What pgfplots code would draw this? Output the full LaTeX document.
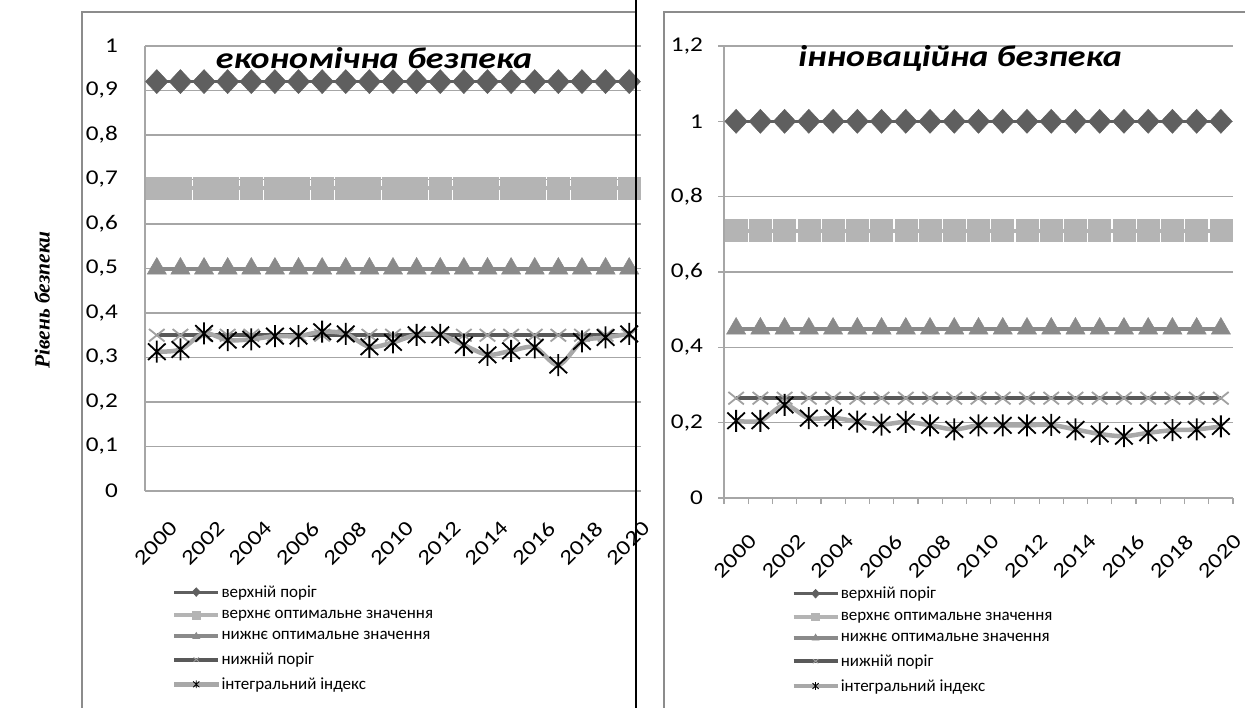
\documentclass[border=0pt]{standalone}
\usepackage{fontspec}
\setmainfont{Carlito}[FakeStretch=1.2]
\newfontfamily\legfont{Carlito}
\newfontfamily\timesf{Liberation Serif}
\usepackage{pgfplots}
\pgfplotsset{compat=1.18}

\definecolor{cdia}{HTML}{5F5F5F}
\definecolor{csq}{HTML}{B4B4B4}
\definecolor{ctri}{HTML}{8A8A8A}
\definecolor{clow}{HTML}{595959}
\definecolor{clowm}{HTML}{A0A0A0}
\definecolor{cint}{HTML}{A8A8A8}
\definecolor{cgrid}{HTML}{A6A6A6}
\definecolor{cframe}{HTML}{8C8C8C}

% vertical bar + X, like the spreadsheet star marker
\pgfdeclareplotmark{star8}{%
  \pgfpathmoveto{\pgfqpoint{0pt}{\pgfplotmarksize}}%
  \pgfpathlineto{\pgfqpoint{0pt}{-\pgfplotmarksize}}%
  \pgfpathmoveto{\pgfqpoint{-.8\pgfplotmarksize}{.75\pgfplotmarksize}}%
  \pgfpathlineto{\pgfqpoint{.8\pgfplotmarksize}{-.75\pgfplotmarksize}}%
  \pgfpathmoveto{\pgfqpoint{-.8\pgfplotmarksize}{-.75\pgfplotmarksize}}%
  \pgfpathlineto{\pgfqpoint{.8\pgfplotmarksize}{.75\pgfplotmarksize}}%
  \pgfusepathqstroke}

% year, upper threshold, upper optimum, lower optimum, lower threshold, integral index
\pgfplotstableread{
yr   up    uo    lo   low   idx
2000 0.92  0.68  0.5  0.35  0.313
2001 0.92  0.68  0.5  0.35  0.318
2002 0.92  0.68  0.5  0.35  0.354
2003 0.92  0.68  0.5  0.35  0.339
2004 0.92  0.68  0.5  0.35  0.341
2005 0.92  0.68  0.5  0.35  0.348
2006 0.92  0.68  0.5  0.35  0.348
2007 0.92  0.68  0.5  0.35  0.358
2008 0.92  0.68  0.5  0.35  0.353
2009 0.92  0.68  0.5  0.35  0.324
2010 0.92  0.68  0.5  0.35  0.334
2011 0.92  0.68  0.5  0.35  0.351
2012 0.92  0.68  0.5  0.35  0.351
2013 0.92  0.68  0.5  0.35  0.328
2014 0.92  0.68  0.5  0.35  0.306
2015 0.92  0.68  0.5  0.35  0.315
2016 0.92  0.68  0.5  0.35  0.323
2017 0.92  0.68  0.5  0.35  0.283
2018 0.92  0.68  0.5  0.35  0.336
2019 0.92  0.68  0.5  0.35  0.345
2020 0.92  0.68  0.5  0.35  0.353
}\econ

\pgfplotstableread{
yr   up    uo    lo    low   idx
2000 1.0   0.71  0.45  0.265 0.205
2001 1.0   0.71  0.45  0.265 0.205
2002 1.0   0.71  0.45  0.265 0.247
2003 1.0   0.71  0.45  0.265 0.212
2004 1.0   0.71  0.45  0.265 0.213
2005 1.0   0.71  0.45  0.265 0.203
2006 1.0   0.71  0.45  0.265 0.195
2007 1.0   0.71  0.45  0.265 0.202
2008 1.0   0.71  0.45  0.265 0.193
2009 1.0   0.71  0.45  0.265 0.182
2010 1.0   0.71  0.45  0.265 0.193
2011 1.0   0.71  0.45  0.265 0.193
2012 1.0   0.71  0.45  0.265 0.193
2013 1.0   0.71  0.45  0.265 0.194
2014 1.0   0.71  0.45  0.265 0.182
2015 1.0   0.71  0.45  0.265 0.170
2016 1.0   0.71  0.45  0.265 0.164
2017 1.0   0.71  0.45  0.265 0.173
2018 1.0   0.71  0.45  0.265 0.180
2019 1.0   0.71  0.45  0.265 0.182
2020 1.0   0.71  0.45  0.265 0.190
}\innov

\pgfplotsset{
  panel/.style={
    scale only axis, clip=false,
    xmin=1999.5, xmax=2020.5, ymin=0,
    xtick={2000,2002,...,2020},
    xticklabel style={xshift=12pt, yshift=-29pt, rotate=45, anchor=north east,
      inner sep=0pt, /pgf/number format/1000 sep={}, font=\fontsize{21}{22}\selectfont},
    yticklabel style={/pgf/number format/.cd, use comma, fixed, precision=1,
      /tikz/.cd, inner sep=0pt, anchor=east, font=\fontsize{21}{22}\selectfont},
    /pgf/number format/assume math mode=true,
    ymajorgrids, grid style={cgrid, line width=1.2pt},
    axis lines=left, axis line style={cgrid, line width=1.5pt, -},
    legend style={draw=none, fill=none, font=\legfont\fontsize{17}{18}\selectfont,
      legend cell align=left, row sep=9.6pt, anchor=north west,
      nodes={inner xsep=1pt, inner ysep=1pt}},
    legend image code/.code={\draw[mark repeat=2,mark phase=2]
      plot coordinates {(0pt,0pt)(22pt,0pt)(44pt,0pt)};},
    legend image post style={every mark/.append style={scale=0.35, line width=0.8pt}},
  },
  s1/.style={cdia, line width=3pt, mark=diamond*, mark size=12pt,
    mark options={xscale=1.25, fill=cdia, draw=cdia, line width=0.5pt}},
  s2/.style={csq, line width=4pt, mark=square*, mark size=11pt,
    mark options={fill=csq, draw=csq, line width=0.5pt}},
  s3/.style={ctri, line width=4pt, mark=triangle*, mark size=11pt,
    mark options={fill=ctri, draw=ctri, line width=0.5pt}},
  s4/.style={clow, line width=4pt, mark=x, mark size=11pt,
    mark options={clowm, yscale=0.8, line width=1.8pt}},
  s5/.style={cint, line width=4.5pt, smooth, mark=star8, mark size=11pt,
    mark options={black, line width=1.8pt}},
}

\begin{document}
\begin{tikzpicture}
\path[use as bounding box] (0pt,0pt) rectangle (1245pt,-708pt);

\draw[cframe, line width=2pt] (82pt,-708pt) -- (82pt,-12pt) -- (636pt,-12pt);
\draw[cframe, line width=2pt] (664pt,-708pt) -- (664pt,-12pt) -- (1245pt,-12pt);

\begin{axis}[panel, at={(145pt,-491pt)}, anchor=south west,
  width=496pt, height=445pt, ymax=1, ytick={0,0.1,...,1},
  major tick length=0pt, yticklabel style={xshift=-27pt},
  legend style={at={(0.048,-0.205)}}]
  \addplot[s1] table[x=yr, y=up] {\econ};
  \addlegendentry{верхній поріг}
  \addplot[s2] table[x=yr, y=uo] {\econ};
  \addlegendentry{верхнє оптимальне значення}
  \addplot[s3] table[x=yr, y=lo] {\econ};
  \addlegendentry{нижнє оптимальне значення}
  \addplot[s4] table[x=yr, y=low] {\econ};
  \addlegendentry{нижній поріг}
  \addplot[s5] table[x=yr, y=idx] {\econ};
  \addlegendentry{інтегральний індекс}
\end{axis}

\begin{axis}[panel, at={(724pt,-498pt)}, anchor=south west,
  width=509pt, height=452pt, ymax=1.2, ytick={0,0.2,...,1.2},
  tick align=outside, major tick length=6pt,
  major x tick style={draw=none},
  minor xtick={1999.5,2000.5,...,2020.5}, minor tick length=6pt,
  tick style={cgrid, line width=1.2pt},
  yticklabel style={xshift=-15pt},
  legend style={at={(0.126,-0.19)}}]
  \addplot[s1] table[x=yr, y=up] {\innov};
  \addlegendentry{верхній поріг}
  \addplot[s2] table[x=yr, y=uo] {\innov};
  \addlegendentry{верхнє оптимальне значення}
  \addplot[s3] table[x=yr, y=lo] {\innov};
  \addlegendentry{нижнє оптимальне значення}
  \addplot[s4] table[x=yr, y=low] {\innov};
  \addlegendentry{нижній поріг}
  \addplot[s5] table[x=yr, y=idx] {\innov};
  \addlegendentry{інтегральний індекс}
\end{axis}

\node[font=\bfseries\itshape\fontsize{30}{32}\selectfont] at (374pt,-58pt) {економічна безпека};
\node[font=\bfseries\itshape\fontsize{30}{32}\selectfont] at (960pt,-58pt) {інноваційна безпека};
\node[rotate=90, font=\timesf\bfseries\itshape\fontsize{21.5}{24}\selectfont] at (42pt,-300pt) {Рівень безпеки};

\draw[black, line width=2.5pt] (636pt,0pt) -- (636pt,-708pt);
\end{tikzpicture}
\end{document}
